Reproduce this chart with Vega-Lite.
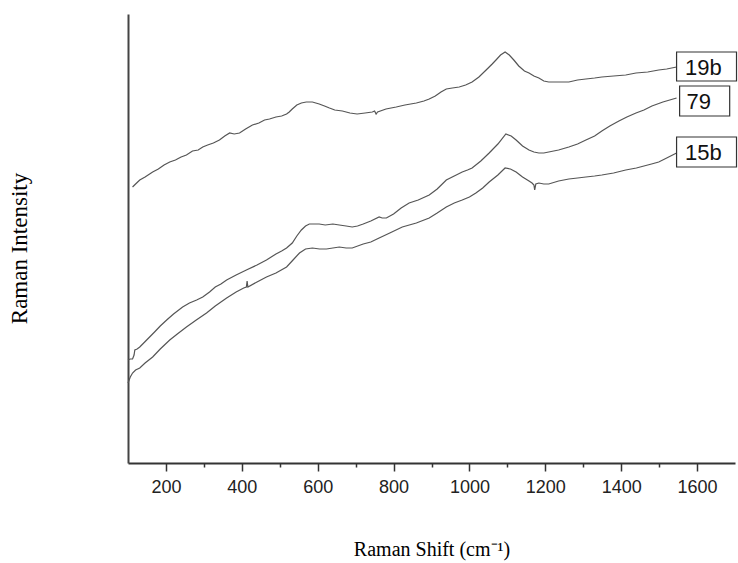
{
  "$schema": "https://vega.github.io/schema/vega-lite/v6.json",
  "width": 607,
  "height": 449,
  "autosize": "none",
  "padding": {"left": 128, "top": 14, "right": 3, "bottom": 100},
  "background": "white",
  "config": {"view": {"stroke": null}},
  "datasets": {
    "spectra": [
      {"s":"19b","x":112,"y":276},{"s":"19b","x":120,"y":279},{"s":"19b","x":131,"y":283},{"s":"19b","x":145,"y":286},{"s":"19b","x":157,"y":289},{"s":"19b","x":165,"y":291},{"s":"19b","x":180,"y":294},{"s":"19b","x":195,"y":298},{"s":"19b","x":210,"y":301},{"s":"19b","x":225,"y":303},{"s":"19b","x":240,"y":306},{"s":"19b","x":254,"y":308},{"s":"19b","x":270,"y":312},{"s":"19b","x":285,"y":313},{"s":"19b","x":297,"y":316},{"s":"19b","x":310,"y":318},{"s":"19b","x":325,"y":320},{"s":"19b","x":341,"y":323},{"s":"19b","x":355,"y":327},{"s":"19b","x":368,"y":330},{"s":"19b","x":380,"y":329},{"s":"19b","x":394,"y":330},{"s":"19b","x":410,"y":334},{"s":"19b","x":428,"y":338},{"s":"19b","x":445,"y":340},{"s":"19b","x":460,"y":343},{"s":"19b","x":473,"y":344},{"s":"19b","x":490,"y":346},{"s":"19b","x":505,"y":347},{"s":"19b","x":518,"y":349},{"s":"19b","x":525,"y":351},{"s":"19b","x":533,"y":354},{"s":"19b","x":545,"y":358},{"s":"19b","x":557,"y":360},{"s":"19b","x":570,"y":361},{"s":"19b","x":586,"y":361},{"s":"19b","x":595,"y":360},{"s":"19b","x":604,"y":359},{"s":"19b","x":618,"y":357},{"s":"19b","x":631,"y":355},{"s":"19b","x":645,"y":353},{"s":"19b","x":665,"y":352},{"s":"19b","x":685,"y":350},{"s":"19b","x":704,"y":349},{"s":"19b","x":725,"y":350},{"s":"19b","x":744,"y":351},{"s":"19b","x":750,"y":352},{"s":"19b","x":754,"y":349},{"s":"19b","x":758,"y":351},{"s":"19b","x":780,"y":354},{"s":"19b","x":807,"y":356},{"s":"19b","x":830,"y":358},{"s":"19b","x":860,"y":360},{"s":"19b","x":880,"y":362},{"s":"19b","x":894,"y":364},{"s":"19b","x":910,"y":367},{"s":"19b","x":925,"y":371},{"s":"19b","x":939,"y":374},{"s":"19b","x":955,"y":375},{"s":"19b","x":973,"y":376},{"s":"19b","x":990,"y":378},{"s":"19b","x":1007,"y":381},{"s":"19b","x":1025,"y":386},{"s":"19b","x":1044,"y":393},{"s":"19b","x":1060,"y":399},{"s":"19b","x":1070,"y":403},{"s":"19b","x":1082,"y":408},{"s":"19b","x":1094,"y":411},{"s":"19b","x":1105,"y":408},{"s":"19b","x":1117,"y":403},{"s":"19b","x":1130,"y":397},{"s":"19b","x":1145,"y":392},{"s":"19b","x":1157,"y":390},{"s":"19b","x":1170,"y":387},{"s":"19b","x":1183,"y":385},{"s":"19b","x":1196,"y":382},{"s":"19b","x":1209,"y":381},{"s":"19b","x":1235,"y":381},{"s":"19b","x":1262,"y":381},{"s":"19b","x":1285,"y":383},{"s":"19b","x":1307,"y":384},{"s":"19b","x":1330,"y":385},{"s":"19b","x":1349,"y":386},{"s":"19b","x":1380,"y":387},{"s":"19b","x":1412,"y":388},{"s":"19b","x":1439,"y":390},{"s":"19b","x":1470,"y":391},{"s":"19b","x":1499,"y":393},{"s":"19b","x":1520,"y":394},{"s":"19b","x":1546,"y":396},
      {"s":"79","x":100,"y":103},{"s":"79","x":106,"y":104},{"s":"79","x":112,"y":104},{"s":"79","x":116,"y":108},{"s":"79","x":118,"y":113},{"s":"79","x":124,"y":114},{"s":"79","x":131,"y":116},{"s":"79","x":144,"y":121},{"s":"79","x":157,"y":126},{"s":"79","x":170,"y":131},{"s":"79","x":185,"y":137},{"s":"79","x":202,"y":143},{"s":"79","x":220,"y":149},{"s":"79","x":244,"y":156},{"s":"79","x":262,"y":160},{"s":"79","x":281,"y":163},{"s":"79","x":297,"y":166},{"s":"79","x":315,"y":171},{"s":"79","x":330,"y":176},{"s":"79","x":345,"y":179},{"s":"79","x":360,"y":183},{"s":"79","x":385,"y":188},{"s":"79","x":412,"y":193},{"s":"79","x":440,"y":198},{"s":"79","x":465,"y":203},{"s":"79","x":490,"y":209},{"s":"79","x":505,"y":212},{"s":"79","x":518,"y":215},{"s":"79","x":533,"y":220},{"s":"79","x":545,"y":227},{"s":"79","x":557,"y":233},{"s":"79","x":568,"y":237},{"s":"79","x":578,"y":239},{"s":"79","x":590,"y":239},{"s":"79","x":604,"y":239},{"s":"79","x":620,"y":238},{"s":"79","x":640,"y":239},{"s":"79","x":657,"y":238},{"s":"79","x":675,"y":237},{"s":"79","x":691,"y":236},{"s":"79","x":705,"y":237},{"s":"79","x":720,"y":239},{"s":"79","x":740,"y":242},{"s":"79","x":762,"y":246},{"s":"79","x":770,"y":245},{"s":"79","x":781,"y":245},{"s":"79","x":800,"y":249},{"s":"79","x":820,"y":255},{"s":"79","x":841,"y":260},{"s":"79","x":865,"y":263},{"s":"79","x":894,"y":268},{"s":"79","x":915,"y":274},{"s":"79","x":939,"y":283},{"s":"79","x":960,"y":287},{"s":"79","x":981,"y":291},{"s":"79","x":995,"y":293},{"s":"79","x":1007,"y":295},{"s":"79","x":1030,"y":302},{"s":"79","x":1052,"y":310},{"s":"79","x":1075,"y":319},{"s":"79","x":1096,"y":329},{"s":"79","x":1110,"y":327},{"s":"79","x":1123,"y":323},{"s":"79","x":1140,"y":317},{"s":"79","x":1157,"y":313},{"s":"79","x":1170,"y":311},{"s":"79","x":1183,"y":310},{"s":"79","x":1196,"y":310},{"s":"79","x":1209,"y":311},{"s":"79","x":1235,"y":313},{"s":"79","x":1262,"y":316},{"s":"79","x":1285,"y":319},{"s":"79","x":1307,"y":323},{"s":"79","x":1330,"y":327},{"s":"79","x":1349,"y":332},{"s":"79","x":1370,"y":337},{"s":"79","x":1394,"y":342},{"s":"79","x":1415,"y":346},{"s":"79","x":1439,"y":350},{"s":"79","x":1460,"y":353},{"s":"79","x":1481,"y":357},{"s":"79","x":1510,"y":361},{"s":"79","x":1546,"y":365},
      {"s":"15b","x":100,"y":80},{"s":"15b","x":106,"y":86},{"s":"15b","x":112,"y":90},{"s":"15b","x":120,"y":93},{"s":"15b","x":131,"y":95},{"s":"15b","x":145,"y":100},{"s":"15b","x":165,"y":106},{"s":"15b","x":185,"y":114},{"s":"15b","x":210,"y":123},{"s":"15b","x":230,"y":129},{"s":"15b","x":254,"y":136},{"s":"15b","x":280,"y":143},{"s":"15b","x":307,"y":150},{"s":"15b","x":330,"y":157},{"s":"15b","x":360,"y":165},{"s":"15b","x":385,"y":171},{"s":"15b","x":405,"y":175},{"s":"15b","x":412,"y":176},{"s":"15b","x":414,"y":182},{"s":"15b","x":416,"y":176},{"s":"15b","x":440,"y":181},{"s":"15b","x":465,"y":186},{"s":"15b","x":490,"y":190},{"s":"15b","x":518,"y":196},{"s":"15b","x":535,"y":203},{"s":"15b","x":552,"y":210},{"s":"15b","x":568,"y":214},{"s":"15b","x":586,"y":215},{"s":"15b","x":605,"y":214},{"s":"15b","x":623,"y":214},{"s":"15b","x":640,"y":215},{"s":"15b","x":657,"y":216},{"s":"15b","x":675,"y":215},{"s":"15b","x":691,"y":215},{"s":"15b","x":720,"y":219},{"s":"15b","x":740,"y":221},{"s":"15b","x":762,"y":225},{"s":"15b","x":790,"y":230},{"s":"15b","x":823,"y":236},{"s":"15b","x":860,"y":240},{"s":"15b","x":894,"y":245},{"s":"15b","x":915,"y":250},{"s":"15b","x":939,"y":256},{"s":"15b","x":960,"y":260},{"s":"15b","x":981,"y":263},{"s":"15b","x":1000,"y":266},{"s":"15b","x":1017,"y":270},{"s":"15b","x":1035,"y":275},{"s":"15b","x":1052,"y":281},{"s":"15b","x":1075,"y":288},{"s":"15b","x":1094,"y":295},{"s":"15b","x":1108,"y":294},{"s":"15b","x":1123,"y":291},{"s":"15b","x":1140,"y":286},{"s":"15b","x":1157,"y":282},{"s":"15b","x":1165,"y":280},{"s":"15b","x":1170,"y":278},{"s":"15b","x":1172,"y":273},{"s":"15b","x":1175,"y":279},{"s":"15b","x":1183,"y":280},{"s":"15b","x":1196,"y":279},{"s":"15b","x":1209,"y":279},{"s":"15b","x":1235,"y":282},{"s":"15b","x":1262,"y":284},{"s":"15b","x":1285,"y":285},{"s":"15b","x":1307,"y":286},{"s":"15b","x":1330,"y":287},{"s":"15b","x":1349,"y":288},{"s":"15b","x":1380,"y":290},{"s":"15b","x":1412,"y":293},{"s":"15b","x":1440,"y":295},{"s":"15b","x":1460,"y":297},{"s":"15b","x":1480,"y":299},{"s":"15b","x":1499,"y":301},{"s":"15b","x":1520,"y":305},{"s":"15b","x":1546,"y":310}
    ],
    "labels": [
      {"label":"19b","x1":1546,"x2":1704,"y1":382,"y2":411,"tx":1568,"ty":396.5},
      {"label":"79","x1":1554,"x2":1686,"y1":347,"y2":377,"tx":1572,"ty":362},
      {"label":"15b","x1":1546,"x2":1704,"y1":296,"y2":326,"tx":1568,"ty":311}
    ]
  },
  "layer": [
    {
      "data": {"name": "spectra"},
      "mark": {"type": "line", "color": "#555555", "strokeWidth": 1.2, "interpolate": "linear"},
      "encoding": {
        "x": {
          "field": "x", "type": "quantitative",
          "scale": {"domain": [100, 1700], "nice": false, "zero": false},
          "axis": {
            "title": "Raman Shift (cm⁻¹)",
            "titleFont": "Liberation Serif", "titleFontSize": 20, "titleFontWeight": "normal", "titleColor": "#000000",
            "titlePadding": 43,
            "values": [200, 300, 400, 500, 600, 700, 800, 900, 1000, 1100, 1200, 1300, 1400, 1500, 1600],
            "labelExpr": "datum.value % 200 === 0 ? datum.label : ''",
            "format": "d",
            "labelFont": "Liberation Sans", "labelFontSize": 18, "labelColor": "#222222",
            "labelPadding": 7,
            "tickSize": {"condition": {"test": "datum.value % 200 === 0", "value": 8}, "value": 4},
            "tickColor": "#333333", "tickWidth": 1.5,
            "domainColor": "#333333", "domainWidth": 1.8,
            "grid": false, "labelFlush": false, "labelOverlap": false
          }
        },
        "y": {
          "field": "y", "type": "quantitative",
          "scale": {"domain": [0, 449], "nice": false, "zero": false},
          "axis": {
            "title": "Raman Intensity",
            "titleFont": "Liberation Serif", "titleFontSize": 23, "titleFontWeight": "normal", "titleColor": "#000000",
            "titlePadding": 97, "titleY": 234,
            "labels": false, "ticks": false, "grid": false,
            "domainColor": "#444444", "domainWidth": 2
          }
        },
        "detail": {"field": "s", "type": "nominal"}
      }
    },
    {
      "data": {"name": "labels"},
      "mark": {"type": "rect", "fill": "white", "stroke": "#333333", "strokeWidth": 1.2},
      "encoding": {
        "x": {"field": "x1", "type": "quantitative"},
        "x2": {"field": "x2"},
        "y": {"field": "y1", "type": "quantitative"},
        "y2": {"field": "y2"}
      }
    },
    {
      "data": {"name": "labels"},
      "mark": {"type": "text", "align": "left", "baseline": "middle", "font": "Liberation Sans", "fontSize": 22, "color": "#111111", "dy": 1},
      "encoding": {
        "x": {"field": "tx", "type": "quantitative"},
        "y": {"field": "ty", "type": "quantitative"},
        "text": {"field": "label"}
      }
    }
  ]
}
